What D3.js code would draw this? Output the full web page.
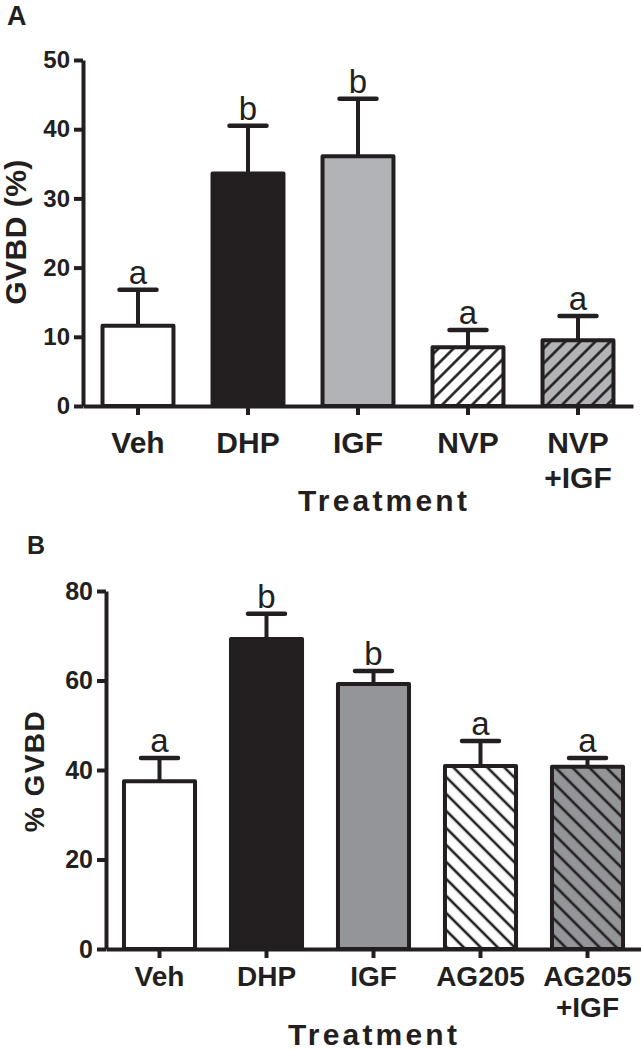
<!DOCTYPE html>
<html>
<head>
<meta charset="utf-8">
<script src="https://cdn.jsdelivr.net/npm/d3@7"></script>
<style>
  html, body { margin: 0; padding: 0; background: #fff; }
  svg { display: block; }
  text { font-family: "Liberation Sans", Arial, Helvetica, sans-serif; fill: #231f20; }
</style>
</head>
<body>
<script>
// ---- Data ----
const catsA = ["Veh", "DHP", "IGF", "NVP", "NVP +IGF"];
const meanA = [11.6, 33.6, 36.1, 8.5, 9.5];
const semA = [5.2, 6.9, 8.3, 2.5, 3.5];
const lettersA = ["a", "b", "b", "a", "a"];
const ticksA = [0, 10, 20, 30, 40, 50];

const catsB = ["Veh", "DHP", "IGF", "AG205", "AG205 +IGF"];
const meanB = [37.5, 69.3, 59.2, 40.9, 40.7];
const semB = [5.2, 5.6, 2.9, 5.6, 2.0];
const lettersB = ["a", "b", "b", "a", "a"];
const ticksB = [0, 20, 40, 60, 80];

// ---- Styles ----
const INK = "#231f20";
const fillsA = ["#ffffff", INK, "#b1b3b6", "url(#hA1)", "url(#hA2)"];
const fillsB = ["#ffffff", INK, "#939598", "url(#hB1)", "url(#hB2)"];

const W = 641, H = 1050;
const svg = d3.select("body").append("svg").attr("width", W).attr("height", H);
const defs = svg.append("defs");

function hatch(id, bg, angle, spacing, lw) {
  const p = defs.append("pattern").attr("id", id)
    .attr("patternUnits", "userSpaceOnUse")
    .attr("width", spacing).attr("height", spacing)
    .attr("patternTransform", `rotate(${angle})`);
  p.append("rect").attr("width", spacing).attr("height", spacing).attr("fill", bg);
  p.append("line").attr("x1", spacing / 2).attr("x2", spacing / 2)
    .attr("y1", 0).attr("y2", spacing)
    .attr("stroke", INK).attr("stroke-width", lw);
}
hatch("hA1", "#ffffff", 45, 10.6, 2.6);
hatch("hA2", "#b1b3b6", 45, 10.6, 2.6);
hatch("hB1", "#ffffff", -45, 12, 2.6);
hatch("hB2", "#939598", -45, 12, 2.6);

function panel(cfg) {
  const g = svg.append("g");
  const x = d3.scaleBand().domain(cfg.cats).range(cfg.xr)
    .paddingInner(cfg.pad).paddingOuter(cfg.pad / 2);
  const y = d3.scaleLinear().domain(cfg.ydom).range(cfg.yr);
  const data = cfg.cats.map((c, i) => ({ c, m: cfg.mean[i], s: cfg.sem[i], l: cfg.letters[i], f: cfg.fills[i] }));

  // error bars (upper only)
  const eb = g.append("g");
  eb.selectAll("line.v").data(data).join("line")
    .attr("x1", d => x(d.c) + x.bandwidth() / 2).attr("x2", d => x(d.c) + x.bandwidth() / 2)
    .attr("y1", d => y(d.m)).attr("y2", d => y(d.m + d.s))
    .attr("stroke", INK).attr("stroke-width", 4);
  eb.selectAll("line.h").data(data).join("line")
    .attr("x1", d => x(d.c) + x.bandwidth() / 2 - cfg.cap / 2)
    .attr("x2", d => x(d.c) + x.bandwidth() / 2 + cfg.cap / 2)
    .attr("y1", d => y(d.m + d.s)).attr("y2", d => y(d.m + d.s))
    .attr("stroke", INK).attr("stroke-width", 4.5).attr("stroke-linecap", "round");

  // bars
  g.append("g").selectAll("rect").data(data).join("rect")
    .attr("x", d => x(d.c)).attr("width", x.bandwidth())
    .attr("y", d => y(d.m)).attr("height", d => y(0) - y(d.m))
    .attr("fill", d => d.f).attr("stroke", INK).attr("stroke-width", 4)
    .attr("stroke-linejoin", "round");

  // significance letters
  g.append("g").selectAll("text").data(data).join("text")
    .attr("x", d => x(d.c) + x.bandwidth() / 2)
    .attr("y", d => y(d.m + d.s) - 6)
    .attr("text-anchor", "middle")
    .style("font-size", cfg.letterSize + "px")
    .text(d => d.l);

  // y axis
  const ya = g.append("g").attr("transform", `translate(${cfg.xr[0]},0)`)
    .call(d3.axisLeft(y).tickValues(cfg.ticks).tickSize(9).tickSizeOuter(0).tickPadding(4));
  ya.select(".domain").attr("stroke", INK).attr("stroke-width", 4);
  ya.selectAll(".tick line").attr("stroke", INK).attr("stroke-width", 4);
  ya.selectAll(".tick text").style("font-size", cfg.tickSize + "px").style("font-weight", "bold")
    .attr("fill", INK).attr("font-family", null);

  // x axis
  const xa = g.append("g").attr("transform", `translate(0,${y(0)})`)
    .call(d3.axisBottom(x).tickSize(9).tickSizeOuter(0).tickFormat(""));
  xa.select(".domain").attr("stroke", INK).attr("stroke-width", 4);
  xa.selectAll(".tick line").attr("stroke", INK).attr("stroke-width", 4);

  // category labels (multi-line)
  const cl = g.append("g").selectAll("text").data(cfg.cats).join("text")
    .attr("text-anchor", "middle")
    .style("font-size", cfg.catSize + "px").style("font-weight", "bold");
  cl.selectAll("tspan").data(c => c.split(" ").map(t => ({ t, c }))).join("tspan")
    .attr("x", d => x(d.c) + x.bandwidth() / 2)
    .attr("y", (d, i) => y(0) + cfg.catY[i])
    .text(d => d.t);

  // x title
  g.append("text").attr("x", cfg.xTitle[0]).attr("y", cfg.xTitle[1])
    .attr("text-anchor", "middle")
    .style("font-size", cfg.xTitleSize + "px").style("font-weight", "bold")
    .style("letter-spacing", cfg.xTitleLs + "px")
    .text("Treatment");

  // y title
  g.append("text")
    .attr("transform", `translate(${cfg.yTitle[0]},${cfg.yTitle[1]}) rotate(-90)`)
    .attr("text-anchor", "middle")
    .style("font-size", cfg.yTitleSize + "px").style("font-weight", "bold")
    .style("letter-spacing", cfg.yTitleLs + "px")
    .text(cfg.yLabel);

  // panel letter
  g.append("text").attr("x", cfg.panelPos[0]).attr("y", cfg.panelPos[1])
    .style("font-size", cfg.panelSize + "px").style("font-weight", "bold")
    .text(cfg.panel);
}

panel({
  cats: catsA, mean: meanA, sem: semA, letters: lettersA, fills: fillsA, ticks: ticksA,
  xr: [83, 633], yr: [406, 60], ydom: [0, 50], pad: 0.355, cap: 37,
  letterSize: 33, tickSize: 24, catSize: 30, catY: [47, 82],
  xTitle: [384, 511], xTitleSize: 30, xTitleLs: 3.2,
  yTitle: [26, 232], yTitleSize: 30, yTitleLs: 0.5, yLabel: "GVBD (%)",
  panel: "A", panelPos: [7, 25], panelSize: 27
});

panel({
  cats: catsB, mean: meanB, sem: semB, letters: lettersB, fills: fillsB, ticks: ticksB,
  xr: [106, 641], yr: [949, 591], ydom: [0, 80], pad: 0.336, cap: 37,
  letterSize: 33, tickSize: 25, catSize: 28, catY: [37, 68],
  xTitle: [374, 1045], xTitleSize: 30, xTitleLs: 3.2,
  yTitle: [44, 771], yTitleSize: 28, yTitleLs: 1.5, yLabel: "% GVBD",
  panel: "B", panelPos: [27, 554], panelSize: 25
});
</script>
</body>
</html>
